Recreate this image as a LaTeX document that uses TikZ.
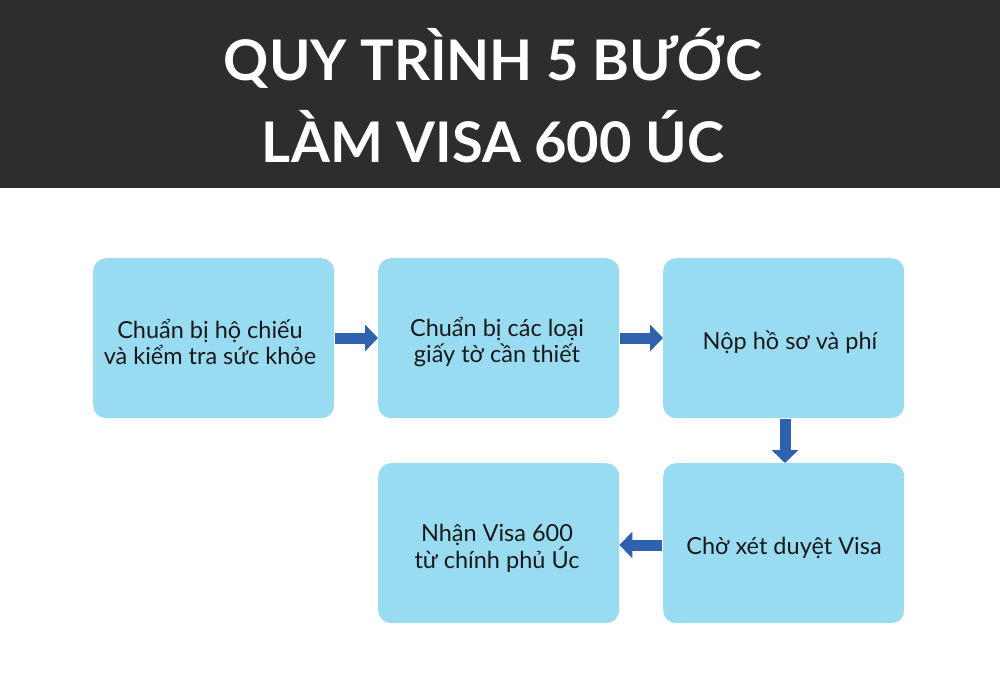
\documentclass[tikz,border=0pt]{standalone}
\usepackage{fontspec}
\setmainfont{Lato}
\usetikzlibrary{arrows.meta}
\definecolor{band}{HTML}{2D2D2D}
\definecolor{boxfill}{HTML}{99DBF1}
\definecolor{arrowblue}{HTML}{2F62AE}
\tikzset{
  stepbox/.style={fill=boxfill, draw=none, rounded corners=13pt, minimum width=241pt, minimum height=160pt, inner sep=0pt, anchor=north west},
  steptext/.style={font=\fontsize{23.5}{26}\selectfont, text=black!90, align=center},
  flow/.style={draw=arrowblue, line width=11pt, -{Triangle[length=13pt,width=26pt]}, shorten <=1pt, shorten >=0pt},
}
\begin{document}
\begin{tikzpicture}[x=1pt,y=-1pt]
\useasboundingbox (0,0) rectangle (1000,684);
\fill[white] (0,0) rectangle (1000,684);
\fill[band] (0,0) rectangle (1000,188);
\node[text=white, font=\bfseries\fontsize{56}{82}\selectfont, align=center] (title) at (493,96) {QUY TRÌNH 5 BƯỚC\\LÀM VISA 600 ÚC};
\node[stepbox] (b1) at (93,258) {};
\node[stepbox] (b2) at (378,258) {};
\node[stepbox] (b3) at (663,258) {};
\node[stepbox] (b4) at (378,463) {};
\node[stepbox] (b5) at (663,463) {};
\node[steptext] (t1) at (210,342) {Chuẩn bị hộ chiếu\\và kiểm tra sức khỏe};
\node[steptext] (t2) at (497,342) {Chuẩn bị các loại\\giấy tờ cần thiết};
\node[steptext] (t3) at (790,342) {Nộp hồ sơ và phí};
\node[steptext] (t4) at (497,548) {Nhận Visa 600\\từ chính phủ Úc};
\node[steptext] (t5) at (784,548) {Chờ xét duyệt Visa};
\draw[flow] (b1.east |- 0,338) -- (b2.west |- 0,338);
\draw[flow] (b2.east |- 0,338) -- (b3.west |- 0,338);
\draw[flow] (785,418) -- (785,463);
\draw[flow] (b5.west |- 0,545) -- (b4.east |- 0,545);
\end{tikzpicture}
\end{document}
